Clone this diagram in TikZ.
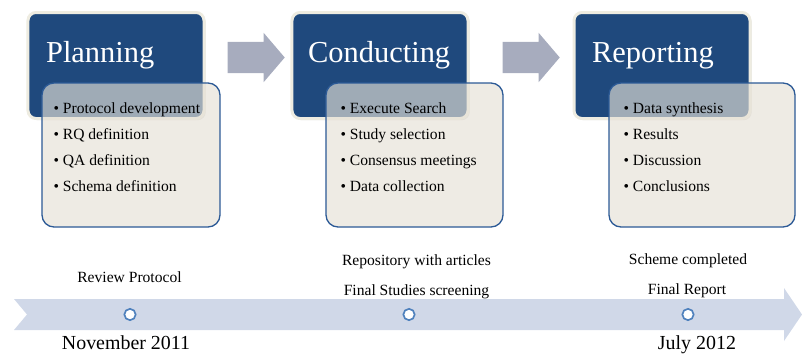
\documentclass[tikz,border=0pt]{standalone}
\usepackage{fontspec}
\setmainfont{Liberation Serif}
\usepackage{tikz}
\usetikzlibrary{shapes.arrows,shadows,positioning}

\definecolor{phaseblue}{RGB}{31,73,125}
\definecolor{phasecream}{RGB}{238,236,225}
\definecolor{listfill}{RGB}{229,224,213}
\definecolor{listline}{RGB}{44,90,150}
\definecolor{arrowgray}{RGB}{167,172,190}
\definecolor{bandblue}{RGB}{208,216,232}
\definecolor{dotblue}{RGB}{79,129,189}

\begin{document}
\begin{tikzpicture}[
		x=0.03cm,
		y=-0.03cm,
		phase/.style={rectangle, rounded corners=0.24cm, fill=phaseblue, draw=phasecream,
			line width=0.09cm, minimum width=5.28cm, minimum height=3.18cm,
			drop shadow={opacity=0.25, shadow xshift=0.05cm, shadow yshift=-0.05cm}},
		phasetitle/.style={anchor=base west, text=white, inner sep=0pt, font=\fontsize{26}{30}\selectfont},
		listbox/.style={rectangle, rounded corners=0.36cm, draw=listline, line width=0.04cm,
			fill=listfill, fill opacity=0.65, minimum height=4.32cm},
		listtext/.style={anchor=north west, align=left, inner sep=0pt, font=\fontsize{13.3}{22.2}\selectfont},
		flow/.style={single arrow, fill=arrowgray, inner xsep=0pt, inner ysep=0.465cm, minimum height=1.71cm,
			single arrow head extend=0.27cm, single arrow tip angle=99},
		milestone/.style={circle, draw=dotblue, fill=white, line width=0.05cm, minimum size=0.34cm, inner sep=0pt},
		note/.style={anchor=base, inner sep=0pt, font=\fontsize{13.3}{16}\selectfont},
		when/.style={anchor=base, inner sep=0pt, font=\fontsize{17}{20}\selectfont}
	]

	\useasboundingbox (0,0) rectangle (802,354);

	\node[phase] (plan) 	at (116,65.5) 	{};
	\node[phase] (conduct) 	at (380,65.5) 	{};
	\node[phase] (report) 	at (662,65.5) 	{};

	\node[listbox, minimum width=5.34cm] (planlist) 	at (131,155) 	{};
	\node[listbox, minimum width=5.31cm] (conductlist) 	at (414.5,155) 	{};
	\node[listbox, minimum width=5.58cm] (reportlist) 	at (702,155) 	{};

	\node[phasetitle, xshift=0.58cm, yshift=0.1cm] at (plan.west) 		{Planning};
	\node[phasetitle, xshift=0.52cm, yshift=0.1cm] at (conduct.west) 	{Conducting};
	\node[phasetitle, xshift=0.58cm, yshift=0.1cm] at (report.west) 	{Reporting};

	\node[listtext, xshift=0.36cm, yshift=-0.6cm] (plantext) at (planlist.north west)
		{\textbullet\ Protocol development\\ \textbullet\ RQ definition\\ \textbullet\ QA definition\\ \textbullet\ Schema definition};
	\node[listtext, xshift=0.45cm, yshift=-0.6cm] (conducttext) at (conductlist.north west)
		{\textbullet\ Execute Search\\ \textbullet\ Study selection\\ \textbullet\ Consensus meetings\\ \textbullet\ Data collection};
	\node[listtext, xshift=0.45cm, yshift=-0.6cm] (reporttext) at (reportlist.north west)
		{\textbullet\ Data synthesis\\ \textbullet\ Results\\ \textbullet\ Discussion\\ \textbullet\ Conclusions};

	\node[flow] (arrow1) at (249.5,57.5) {};
	\node[flow] (arrow2) at (524.5,57.5) {};

	\fill[bandblue] (14,299) -- (784,299) -- (784,288) -- (802,314.5) -- (784,341)
		-- (784,330) -- (14,330) -- (27,314.5) -- cycle;

	\node[milestone] (start) 	at (130,314.5) 	{};
	\node[milestone] (middle) 	at (409,314.5) 	{};
	\node[milestone] (finish) 	at (688,314.5) 	{};

	\node[note] (protocol) 	at (129.5,282) 	{Review Protocol};
	\node[note] (repo) 		at (416.5,265) 	{Repository with articles};
	\node[note] (screen) 	at (416.5,295) 	{Final Studies screening};
	\node[note] (scheme) 	at (688,264) 	{Scheme completed};
	\node[note] (final) 	at (687,294) 	{Final Report};

	\node[when] (nov) 	at (126,349) 	{November 2011};
	\node[when] (jul) 	at (697,349) 	{July 2012};

\end{tikzpicture}
\end{document}
